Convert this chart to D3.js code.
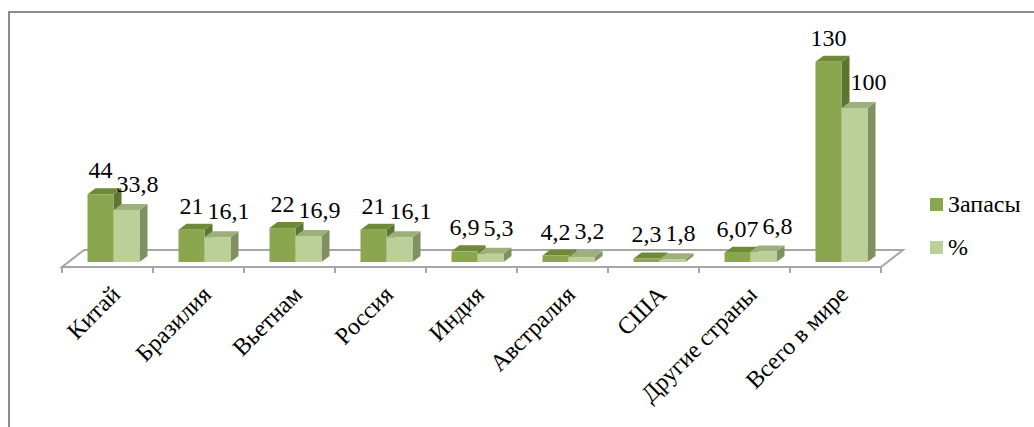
<!DOCTYPE html>
<html>
<head>
<meta charset="utf-8">
<script src="https://cdn.jsdelivr.net/npm/d3@7/dist/d3.min.js"></script>
</head>
<body style="margin:0">
<script>
var categories = ["Китай", "Бразилия", "Вьетнам", "Россия", "Индия", "Австралия", "США", "Другие страны", "Всего в мире"];
var zapasy = [44, 21, 22, 21, 6.9, 4.2, 2.3, 6.07, 130];
var percent = [33.8, 16.1, 16.9, 16.1, 5.3, 3.2, 1.8, 6.8, 100];
var zapasyLabels = ["44", "21", "22", "21", "6,9", "4,2", "2,3", "6,07", "130"];
var percentLabels = ["33,8", "16,1", "16,9", "16,1", "5,3", "3,2", "1,8", "6,8", "100"];
var seriesNames = ["Запасы", "%"];

var width = 1034, height = 427;
var fontSize = 24;

// colours: front, top, side
var colors = [
    {front: "#8aa64e", top: "#6f8a36", side: "#5c7530"},
    {front: "#bccf99", top: "#9db07a", side: "#7f9160"}
];

var svg = d3.select("body").append("svg")
    .attr("width", width)
    .attr("height", height);

// chart frame
svg.append("rect")
    .attr("x", 9).attr("y", 12)
    .attr("width", 1100).attr("height", 500)
    .attr("fill", "none")
    .attr("stroke", "#8c8c8c")
    .attr("stroke-width", 2);

// floor geometry
var floorFront = 267, floorDx = 22, floorDy = -17;
var barDx = 8, barDy = -6;   // bar depth
var barShift = 6;            // bars sit a bit behind the front edge

var x = d3.scaleBand().domain(categories).range([62, 881]);
var xs = d3.scaleBand().domain([0, 1]).range([0, 52]);
var y = d3.scaleLinear().domain([0, 140]).range([262, 262 - 140 * 1.54]);

// floor
var x0 = x.range()[0], x1 = x.range()[1];
svg.append("path")
    .attr("d", "M" + x0 + "," + floorFront + "L" + x1 + "," + floorFront +
        "L" + (x1 + floorDx) + "," + (floorFront + floorDy) +
        "L" + (x0 + floorDx) + "," + (floorFront + floorDy) + "Z")
    .attr("fill", "#fff")
    .attr("stroke", "#a6a6a6")
    .attr("stroke-width", 2);

// ticks
var tickXs = categories.map(function(c) { return x(c); }).concat([x1]);
svg.selectAll(".tick").data(tickXs).enter().append("line")
    .attr("x1", function(d) { return d; })
    .attr("x2", function(d) { return d; })
    .attr("y1", floorFront)
    .attr("y2", floorFront + 6)
    .attr("stroke", "#a6a6a6")
    .attr("stroke-width", 2);

var rows = categories.map(function(c, i) {
    return {cat: c, vals: [zapasy[i], percent[i]], labels: [zapasyLabels[i], percentLabels[i]]};
});

var bars = svg.append("g");
var base = y(0);
rows.forEach(function(r) {
    var start = x(r.cat) + (x.bandwidth() - xs.range()[1]) / 2 + barShift;
    r.vals.forEach(function(v, s) {
        var bx = start + xs(s), bw = xs.bandwidth(), top = y(v);
        var g = bars.append("g");
        g.append("path")
            .attr("d", "M" + (bx + bw) + "," + top + "L" + (bx + bw + barDx) + "," + (top + barDy) +
                "L" + (bx + bw + barDx) + "," + (base + barDy) + "L" + (bx + bw) + "," + base + "Z")
            .attr("fill", colors[s].side);
        g.append("path")
            .attr("d", "M" + bx + "," + top + "L" + (bx + barDx) + "," + (top + barDy) +
                "L" + (bx + bw + barDx) + "," + (top + barDy) + "L" + (bx + bw) + "," + top + "Z")
            .attr("fill", colors[s].top);
        g.append("rect")
            .attr("x", bx).attr("y", top)
            .attr("width", bw).attr("height", base - top)
            .attr("fill", colors[s].front);
    });
});

// Times digits are 0.5em wide, the comma 0.25em
function numWidth(s) {
    var w = 0;
    for (var i = 0; i < s.length; i++) w += (s[i] === "," ? 0.25 : 0.5);
    return w * fontSize;
}

// value labels
var labels = svg.append("g");
rows.forEach(function(r) {
    var start = x(r.cat) + (x.bandwidth() - xs.range()[1]) / 2 + barShift;
    var c0 = start + xs(0) + xs.bandwidth() / 2;
    var w0 = numWidth(r.labels[0]);
    labels.append("text")
        .attr("x", c0 - w0 / 2)
        .attr("y", y(r.vals[0]) - 16)
        .attr("font-size", fontSize)
        .style("font-family", "'Liberation Serif'")
        .text(r.labels[0]);
    var w1 = numWidth(r.labels[1]);
    var lx = start + xs(1) + xs.bandwidth() / 2 + 6 - w1 / 2;
    lx = Math.max(lx, c0 + w0 / 2 + 4);
    labels.append("text")
        .attr("x", lx)
        .attr("y", y(r.vals[1]) - 18)
        .attr("font-size", fontSize)
        .style("font-family", "'Liberation Serif'")
        .text(r.labels[1]);
});

// category labels
svg.append("g")
    .selectAll("text").data(categories).enter().append("text")
    .attr("text-anchor", "end")
    .attr("font-size", fontSize)
    .style("font-family", "'Liberation Serif'")
    .attr("transform", function(d) {
        return "translate(" + (x(d) + x.bandwidth() / 2 + 14) + "," + 296 + ") rotate(-45)";
    })
    .text(function(d) { return d; });

// legend
var legend = svg.append("g").attr("transform", "translate(930,198)");
seriesNames.forEach(function(n, i) {
    legend.append("rect")
        .attr("x", 0).attr("y", i * 43)
        .attr("width", 13).attr("height", 13)
        .attr("fill", colors[i].front);
    legend.append("text")
        .attr("x", 18).attr("y", i * 43 + 14)
        .attr("font-size", fontSize)
        .style("font-family", "'Liberation Serif'")
        .text(n);
});
</script>
</body>
</html>
